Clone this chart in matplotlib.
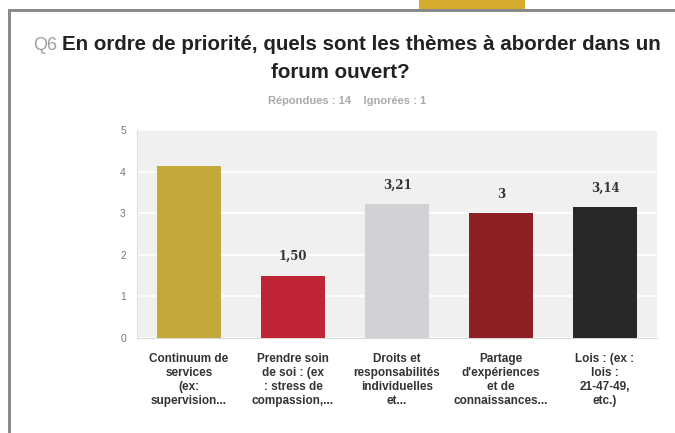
import matplotlib
matplotlib.use("Agg")
import matplotlib.pyplot as plt
from matplotlib.patches import Rectangle

categories = [
    "Continuum de\nservices\n(ex:\nsupervision...",
    "Prendre soin\nde soi : (ex\n: stress de\ncompassion,...",
    "Droits et\nresponsabilités\nindividuelles\net...",
    "Partage\nd'expériences\net de\nconnaissances...",
    "Lois : (ex :\nlois :\n21-47-49,\netc.)",
]
values = [4.14, 1.50, 3.21, 3.00, 3.14]
value_labels = ["", "1,50", "3,21", "3", "3,14"]
colors = ["#c5a83a", "#bf2535", "#d0d2d5", "#8e1f24", "#282828"]
yticks = [0, 1, 2, 3, 4, 5]

W, H = 675, 433
fig = plt.figure(figsize=(W / 100, H / 100), dpi=100)
fig.patch.set_facecolor("white")

def fx(px):
    return px / W

def fy(py):
    return 1 - py / H

# frame decorations
fig.patches.append(Rectangle((fx(8), fy(H)), fx(3), fy(9) - fy(H), transform=fig.transFigure,
                             facecolor="#8a8a8a", edgecolor="none"))
fig.patches.append(Rectangle((fx(8), fy(12)), 1 - fx(8), fy(9) - fy(12), transform=fig.transFigure,
                             facecolor="#8a8a8a", edgecolor="none"))
fig.patches.append(Rectangle((fx(419), fy(9)), fx(106), fy(0) - fy(9), transform=fig.transFigure,
                             facecolor="#d4ab2c", edgecolor="none"))

ax = fig.add_axes([fx(137), fy(338), fx(657) - fx(137), fy(130) - fy(338)])
ax.set_facecolor("#f0f0f0")
x = list(range(len(values)))
ax.bar(x, values, width=0.62, color=colors, zorder=3)
for xi, v, lab in zip(x, values, value_labels):
    if lab:
        ax.text(xi, v + 0.3, lab, ha="center", va="bottom", fontsize=8.5,
                fontweight="bold", family="DejaVu Serif", color="#333333")
ax.set_xlim(-0.5, len(values) - 0.5)
ax.set_ylim(0, 5)
ax.set_yticks(yticks)
ax.set_yticklabels([str(t) for t in yticks], fontsize=7.5, color="#777777", family="Liberation Sans")
ax.set_xticks(x)
ax.set_xticklabels(categories, fontsize=8.5, fontweight="bold", color="#333333",
                   family="Liberation Sans", linespacing=1.2, va="top")
ax.tick_params(axis="both", length=0)
ax.tick_params(axis="x", pad=11)
ax.tick_params(axis="y", pad=8)
ax.yaxis.grid(True, color="white", linewidth=1.2, zorder=0)
ax.set_axisbelow(True)
for s in ["top", "right"]:
    ax.spines[s].set_visible(False)
ax.spines["left"].set_color("#e0e0e0")
ax.spines["bottom"].set_color("#d8d8d8")

# title
fig.text(fx(57), fy(45), "Q6", fontsize=13, color="#a0a0a0", family="Liberation Sans",
         ha="right", va="center")
fig.text(fx(62), fy(45), "En ordre de priorité, quels sont les thèmes à aborder dans un",
         fontsize=14.8, fontweight="bold", color="#222222", family="Liberation Sans",
         ha="left", va="center")
fig.text(fx(340), fy(72), "forum ouvert?", fontsize=14.8, fontweight="bold", color="#222222",
         family="Liberation Sans", ha="center", va="center")
fig.text(fx(347), fy(101), "Répondues : 14    Ignorées : 1", fontsize=8, fontweight="bold",
         color="#aaaaaa", family="Liberation Sans", ha="center", va="center")

fig.savefig("out.png", dpi=100)
